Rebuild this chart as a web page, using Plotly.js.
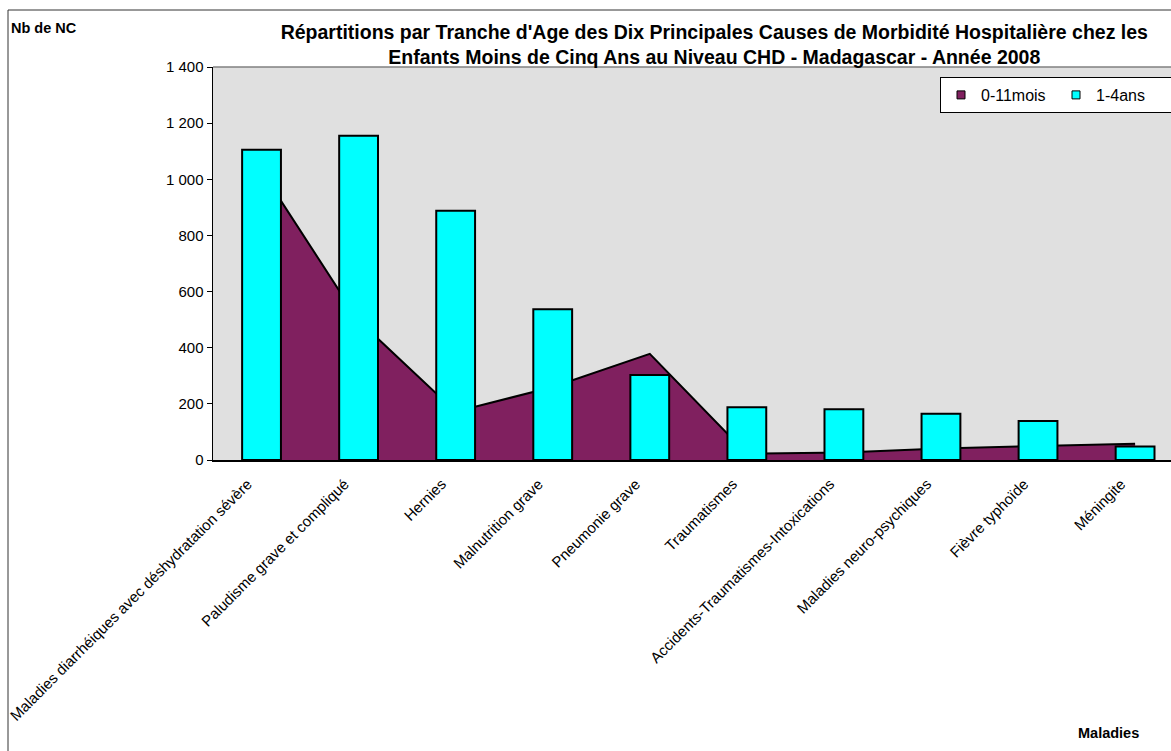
<!DOCTYPE html>
<html>
<head>
<meta charset="utf-8">
<script src="https://cdn.plot.ly/plotly-3.0.1.min.js"></script>
<style>html,body{margin:0;padding:0;background:#fff;}#chart{width:1171px;height:751px;}</style>
</head>
<body>
<div id="chart"></div>
<script>
const categories = [
  "Maladies diarrhéiques avec déshydratation sévère",
  "Paludisme grave et compliqué",
  "Hernies",
  "Malnutrition grave",
  "Pneumonie grave",
  "Traumatismes",
  "Accidents-Traumatismes-Intoxications",
  "Maladies neuro-psychiques",
  "Fièvre typhoïde",
  "Méningite"
];
const infants = [1030, 497, 172, 260, 378, 22, 27, 41, 50, 58];     // 0-11mois
const children = [1105, 1155, 888, 537, 303, 188, 181, 165, 139, 48]; // 1-4ans
const seriesNames = ["0-11mois", "1-4ans"];
const yTicks = [0, 200, 400, 600, 800, 1000, 1200, 1400];

const FONT = '"Liberation Sans", Arial, sans-serif';
const PURPLE = '#80205F';
const CYAN = '#00FFFF';

const traces = [
  {
    type: 'scatter', mode: 'lines', x: categories, y: infants,
    fill: 'tozeroy', fillcolor: PURPLE,
    line: {color: '#000', width: 2},
    xaxis: 'x', yaxis: 'y', showlegend: false, name: seriesNames[0]
  },
  {
    type: 'bar', x: categories, y: children, width: 0.4,
    marker: {color: CYAN, line: {color: '#000', width: 2}},
    xaxis: 'x2', yaxis: 'y2', showlegend: false, name: seriesNames[1]
  },
  {
    type: 'scatter', mode: 'markers', x: [categories[0]], y: [null], name: seriesNames[0],
    marker: {symbol: 'square', size: 8, color: PURPLE, line: {color: '#000', width: 1}},
    xaxis: 'x', yaxis: 'y', showlegend: true
  },
  {
    type: 'scatter', mode: 'markers', x: [categories[0]], y: [null], name: seriesNames[1],
    marker: {symbol: 'square', size: 8, color: CYAN, line: {color: '#000', width: 1}},
    xaxis: 'x', yaxis: 'y', showlegend: true
  }
];

const W = 1171, H = 751, L = 213, R = 0, T = 67, B = 291;
const pw = W - L - R, ph = H - T - B;
const px = v => (v - L) / pw;
const py = v => (H - B - v) / ph;

const layout = {
  width: W, height: H,
  margin: {l: L, r: R, t: T, b: B, pad: 0, autoexpand: false},
  paper_bgcolor: '#fff',
  plot_bgcolor: '#E0E0E0',
  separators: ', ',
  font: {family: FONT, color: '#000', size: 12},
  title: {
    text: "<b>Répartitions par Tranche d'Age des Dix Principales Causes de Morbidité Hospitalière chez les<br>Enfants Moins de Cinq Ans au Niveau CHD - Madagascar - Année 2008</b>",
    font: {family: FONT, size: 19.5, color: '#000'},
    xref: 'container', yref: 'container',
    x: 0.61, xanchor: 'center', y: 1 - 39 / H, yanchor: 'middle'
  },
  xaxis: {
    type: 'category', categoryorder: 'array', categoryarray: categories,
    range: [-0.5, 9.37], tickangle: -45, ticks: '', showgrid: false, automargin: false,
    showline: true, linecolor: '#000', linewidth: 1.5,
    ticklabelstandoff: 8, ticklabelshift: -14,
    tickfont: {family: FONT, size: 15, color: '#000'},
    fixedrange: true
  },
  yaxis: {
    range: [0, 1400], tickvals: yTicks, tickformat: ',d', automargin: false,
    ticks: 'outside', ticklen: 5, tickcolor: '#000', tickwidth: 1,
    showline: true, linecolor: '#000', linewidth: 1.5, showgrid: false, zeroline: false,
    tickfont: {family: FONT, size: 15, color: '#000'},
    fixedrange: true
  },
  xaxis2: {
    type: 'category', categoryorder: 'array', categoryarray: categories,
    overlaying: 'x', range: [-0.5, 9.37], visible: false, fixedrange: true
  },
  yaxis2: {
    overlaying: 'y', range: [0, 1400], visible: false, fixedrange: true
  },
  showlegend: true,
  legend: {
    orientation: 'h', x: px(940), y: py(77), xanchor: 'left', yanchor: 'top',
    bgcolor: '#fff', bordercolor: '#000', borderwidth: 1,
    font: {family: FONT, size: 16, color: '#000'},
    entrywidth: 70, entrywidthmode: 'pixels', itemwidth: 30
  },
  shapes: [
    {type: 'line', xref: 'paper', yref: 'paper', x0: 0, x1: 1, y0: 1, y1: 1,
     line: {color: '#808080', width: 1.5}},
    {type: 'line', xref: 'paper', yref: 'paper', x0: px(8), x1: px(8), y0: py(10), y1: py(H + 5),
     line: {color: '#333', width: 1}},
    {type: 'line', xref: 'paper', yref: 'paper', x0: px(8), x1: px(W + 5), y0: py(10), y1: py(10),
     line: {color: '#333', width: 1}}
  ],
  annotations: [
    {text: '<b>Nb de NC</b>', xref: 'paper', yref: 'paper', x: px(9), y: py(28),
     xanchor: 'left', yanchor: 'middle', showarrow: false,
     font: {family: FONT, size: 14.5, color: '#000'}},
    {text: '<b>Maladies</b>', xref: 'paper', yref: 'paper', x: px(1141), y: py(733),
     xanchor: 'right', yanchor: 'middle', showarrow: false,
     font: {family: FONT, size: 14.5, color: '#000'}}
  ]
};

Plotly.newPlot('chart', traces, layout, {displayModeBar: false, staticPlot: true});
</script>
</body>
</html>
